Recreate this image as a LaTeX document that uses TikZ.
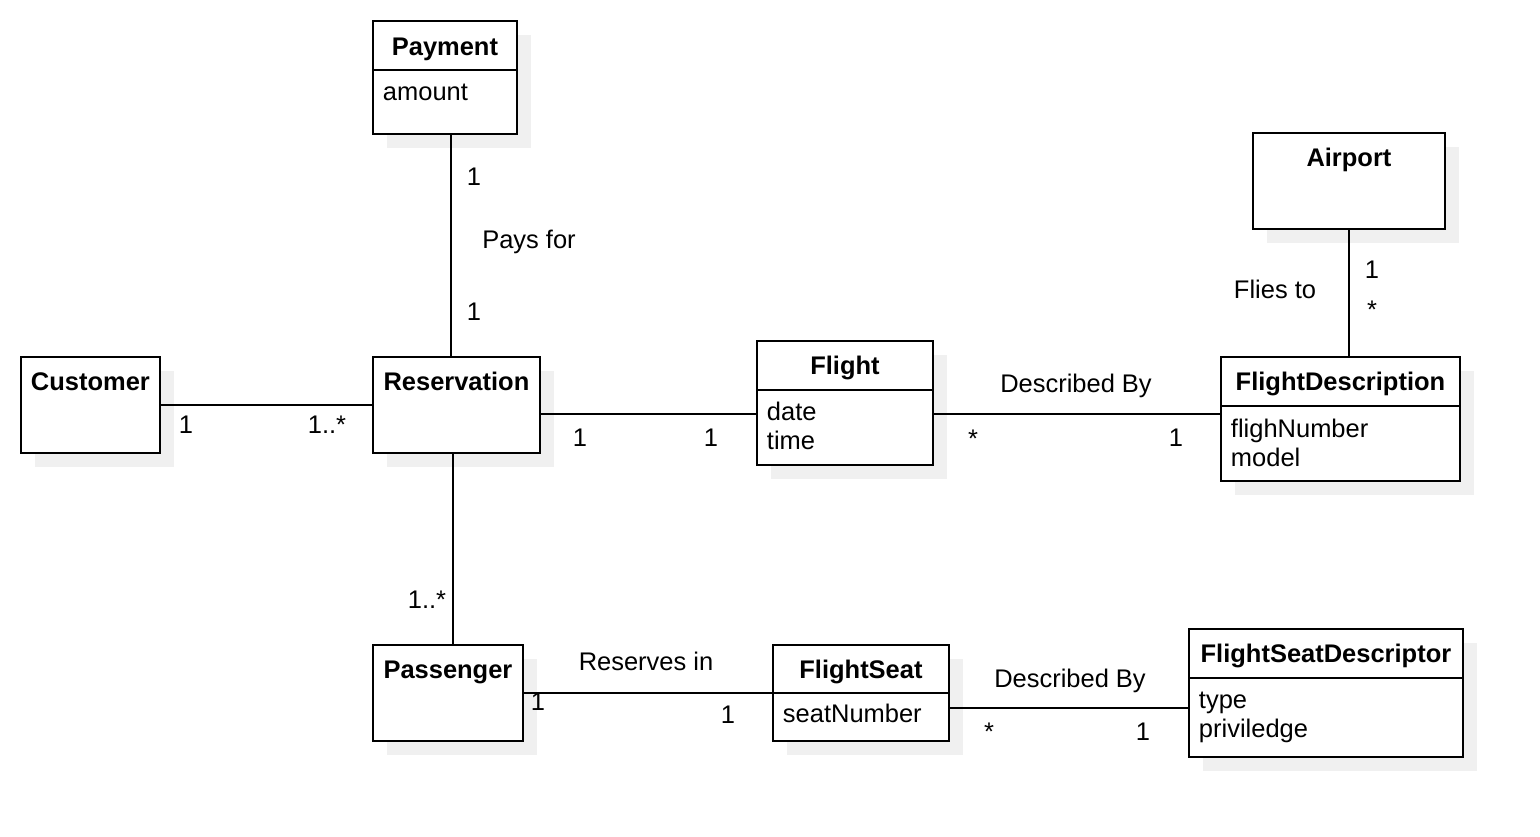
\documentclass[tikz,border=0pt]{standalone}
\usepackage{fontspec}
\setmainfont{Liberation Sans}
\usetikzlibrary{shadows,positioning}

\tikzset{
  classbox/.style={draw, line width=1.1pt, fill=white, anchor=north west, inner sep=0pt,
    drop shadow={shadow xshift=0.28cm, shadow yshift=-0.28cm, fill=black!6, opacity=1}},
  ctitle/.style={font=\bfseries\fontsize{14.5}{17}\selectfont, anchor=base, inner sep=0pt},
  cattr/.style={font=\fontsize{14.5}{17}\selectfont, anchor=base west, inner sep=0pt},
  mult/.style={font=\fontsize{14.5}{17}\selectfont, anchor=base, inner sep=0pt},
}

\begin{document}
\begin{tikzpicture}[x=0.02cm, y=-0.02cm, line width=1.1pt]
   \useasboundingbox (0,0) rectangle (1540,836);
   % classes
   \begin{scope}[every node/.style={classbox}]
    \node[minimum width=2.88cm, minimum height=2.26cm] (payment) at (372,20) {};
    \node[minimum width=2.78cm, minimum height=1.92cm] (customer) at (20,356) {};
    \node[minimum width=3.34cm, minimum height=1.92cm] (reservation) at (372,356) {};
    \node[minimum width=3.52cm, minimum height=2.48cm] (flight) at (756,340) {};
    \node[minimum width=4.78cm, minimum height=2.48cm] (fdesc) at (1220,356) {};
    \node[minimum width=3.84cm, minimum height=1.92cm] (airport) at (1252,132) {};
    \node[minimum width=3.00cm, minimum height=1.92cm] (passenger) at (372,644) {};
    \node[minimum width=3.52cm, minimum height=1.92cm] (seat) at (772,644) {};
    \node[minimum width=5.48cm, minimum height=2.56cm] (seatdesc) at (1188,628) {};
   \end{scope}
   \draw (payment.west |- 0,70) -- (payment.east |- 0,70);
   \draw (flight.west |- 0,390) -- (flight.east |- 0,390);
   \draw (fdesc.west |- 0,406) -- (fdesc.east |- 0,406);
   \draw (seat.west |- 0,693) -- (seat.east |- 0,693);
   \draw (seatdesc.west |- 0,678) -- (seatdesc.east |- 0,678);
   % names and attributes
   \node[ctitle] (tPayment) at (payment.north |- 0,55) {Payment};
   \node[ctitle] (tCustomer) at (customer.north |- 0,390) {Customer};
   \node[ctitle] (tReservation) at (reservation.north |- 0,390) {Reservation};
   \node[ctitle] (tFlight) at (flight.north |- 0,374) {Flight};
   \node[ctitle] (tFdesc) at (fdesc.north |- 0,390) {FlightDescription};
   \node[ctitle] (tAirport) at (airport.north |- 0,166) {Airport};
   \node[ctitle] (tPassenger) at (passenger.north |- 0,678) {Passenger};
   \node[ctitle] (tSeat) at (seat.north |- 0,678) {FlightSeat};
   \node[ctitle] (tSeatdesc) at (seatdesc.north |- 0,662) {FlightSeatDescriptor};
   \node[cattr] (aAmount) at (382,100) {amount};
   \node[cattr] (aDate) at (766,420) {date};
   \node[cattr] (aTime) at (766,449) {time};
   \node[cattr] (aNumber) at (1230,437) {flighNumber};
   \node[cattr] (aModel) at (1230,466) {model};
   \node[cattr] (aSeatNo) at (782,722) {seatNumber};
   \node[cattr] (aType) at (1198,708) {type};
   \node[cattr] (aPriv) at (1198,737) {priviledge};
   % associations
   \begin{scope}[every edge/.style={draw=black, line width=1.1pt}]
    \draw (451,0 |- payment.south) edge (451,0 |- reservation.north);
    \draw (customer) edge (reservation);
    \draw (reservation.east |- 0,414) edge (flight.west |- 0,414);
    \draw (flight.east |- 0,414) edge (fdesc.west |- 0,414);
    \draw (airport.south) edge (airport.south |- fdesc.north);
    \draw (453,0 |- reservation.south) edge (453,0 |- passenger.north);
    \draw (passenger.east) edge (passenger.east -| seat.west);
    \draw (seat.east |- 0,708) edge (seatdesc.west |- 0,708);
   \end{scope}
   % multiplicities and roles
   \node[mult] (m1) at (474,185) {1};
   \node[mult] (lPays) at (529,248) {Pays for};
   \node[mult] (m2) at (474,320) {1};
   \node[mult] (m3) at (186,433) {1};
   \node[mult] (m4) at (327,433) {1..*};
   \node[mult] (m5) at (580,446) {1};
   \node[mult] (m6) at (711,446) {1};
   \node[mult] (lDescA) at (1076,392) {Described By};
   \node[mult] (m7) at (973,447) {*};
   \node[mult] (m8) at (1176,446) {1};
   \node[mult] (m9) at (1372,278) {1};
   \node[mult] (m10) at (1372,318) {*};
   \node[mult] (lFlies) at (1275,298) {Flies to};
   \node[mult] (m11) at (427,608) {1..*};
   \node[mult] (lRes) at (646,670) {Reserves in};
   \node[mult] (m12) at (538,710) {1};
   \node[mult] (m13) at (728,723) {1};
   \node[mult] (lDescB) at (1070,687) {Described By};
   \node[mult] (m14) at (989,740) {*};
   \node[mult] (m15) at (1143,740) {1};
\end{tikzpicture}
\end{document}
